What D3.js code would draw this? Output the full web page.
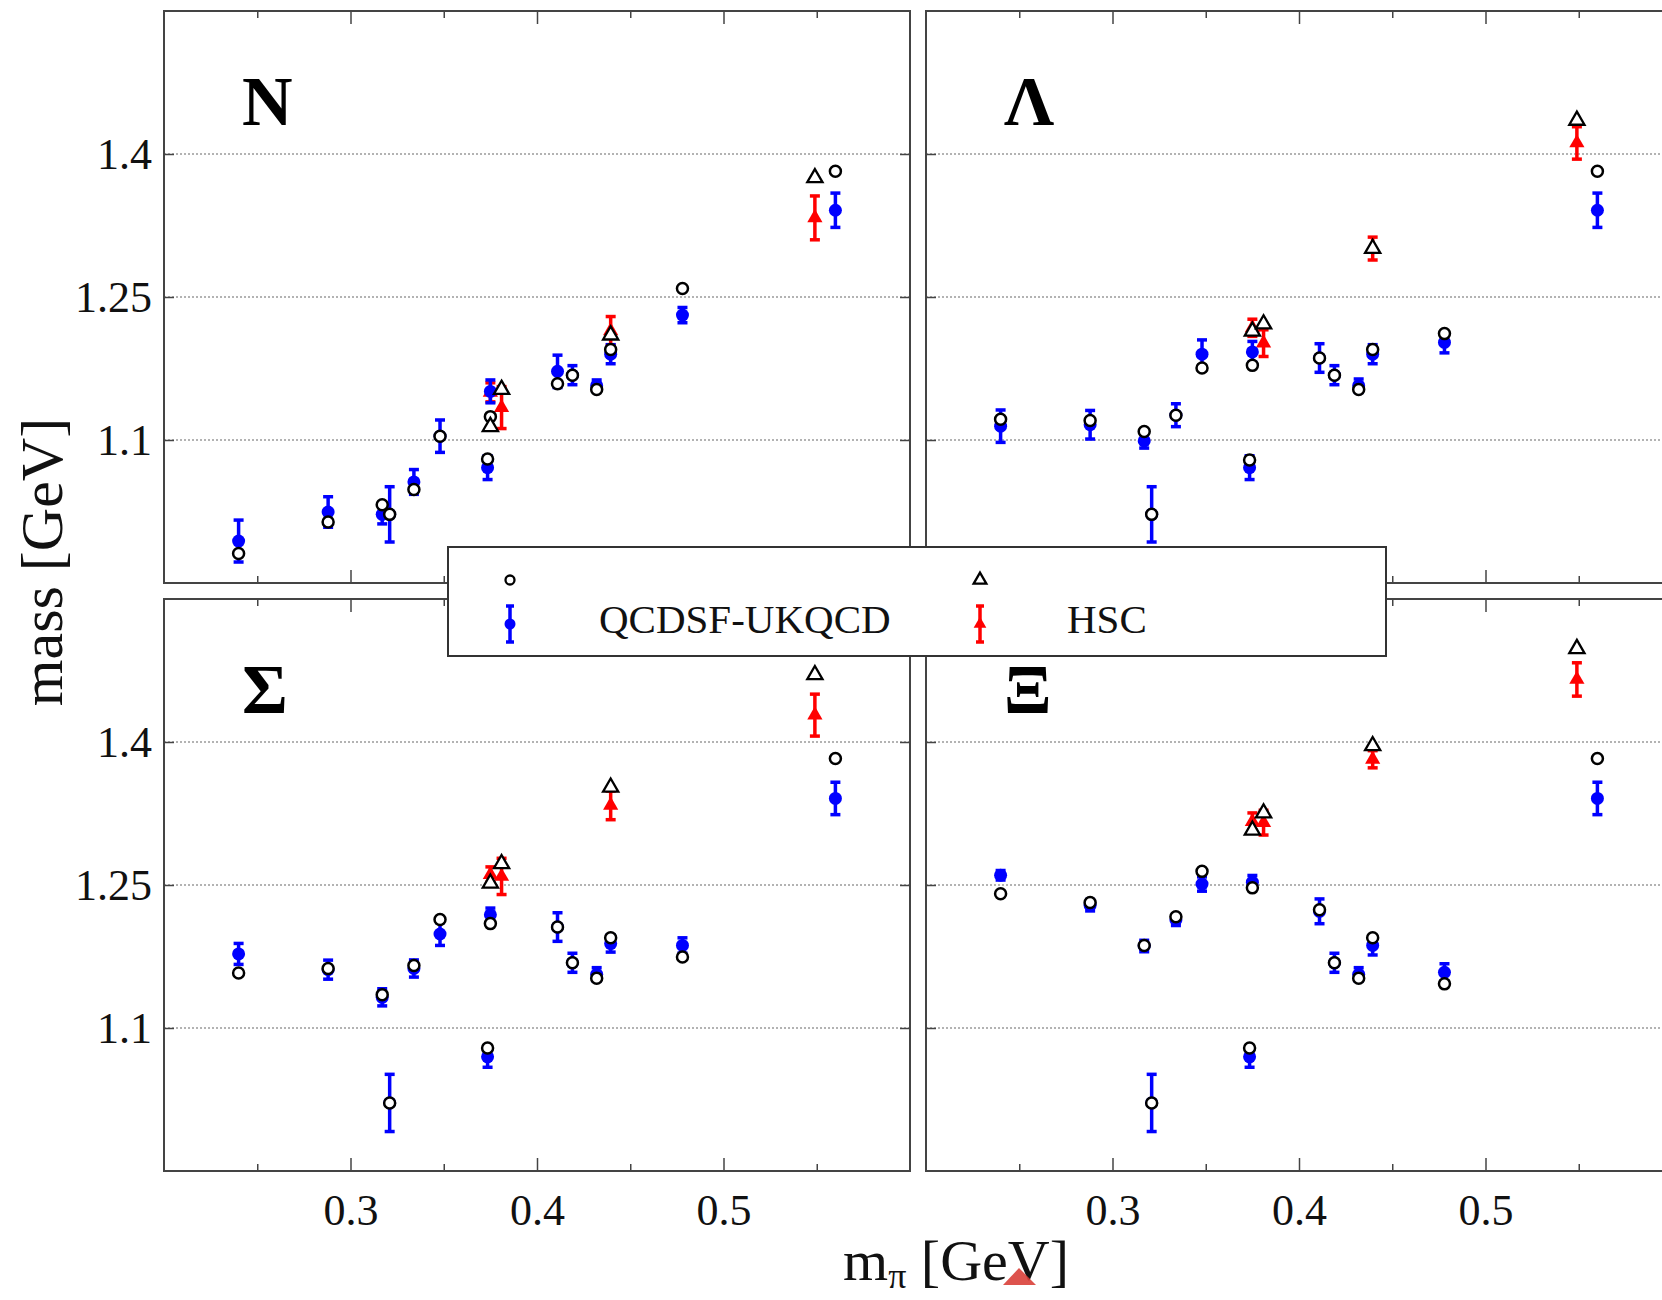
<!DOCTYPE html>
<html>
<head>
<meta charset="utf-8">
<script src="https://cdn.jsdelivr.net/npm/d3@7/dist/d3.min.js"></script>
<style>
body{margin:0;background:#fff;}
svg{display:block;}
</style>
</head>
<body>
<div id="chart"></div>
<script>
// pion masses [GeV] of the two data sets
const mpiQCDSF = [0.240, 0.288, 0.317, 0.321, 0.334, 0.348, 0.3735, 0.375, 0.411, 0.419, 0.432, 0.4395, 0.478, 0.560];
const mpiHSC = [0.375, 0.381, 0.4395, 0.549];

const panelNames = ['N', 'Λ', 'Σ', 'Ξ'];

// QCDSF-UKQCD lattice masses (blue), one row per panel
const qcdsfMass = [
	[0.994, 1.0245, 1.022, 1.022, 1.056, 1.104, 1.071, 1.151, 1.172, 1.168, 1.157, 1.190, 1.231, 1.341],
	[1.1145, 1.116, 1.099, 1.022, 1.126, 1.190, 1.071, 1.1924, 1.186, 1.168, 1.157, 1.190, 1.2024, 1.341],
	[1.1777, 1.1612, 1.1322, 1.0214, 1.1624, 1.1986, 1.0698, 1.2188, 1.2059, 1.1684, 1.1563, 1.1886, 1.1866, 1.3408],
	[1.2602, 1.2288, 1.186, 1.0214, 1.2135, 1.251, 1.0698, 1.253, 1.2224, 1.1684, 1.1563, 1.1866, 1.1584, 1.3408]
];
const qcdsfErr = [
	[0.022, 0.016, 0.010, 0.029, 0.013, 0.017, 0.0125, 0.012, 0.017, 0.010, 0.006, 0.010, 0.008, 0.018],
	[0.017, 0.015, 0.0075, 0.029, 0.012, 0.015, 0.0125, 0.011, 0.015, 0.010, 0.007, 0.010, 0.011, 0.018],
	[0.011, 0.010, 0.009, 0.030, 0.009, 0.012, 0.011, 0.007, 0.015, 0.010, 0.007, 0.009, 0.008, 0.017],
	[0.005, 0.006, 0.006, 0.030, 0.006, 0.0075, 0.011, 0.007, 0.013, 0.010, 0.007, 0.010, 0.009, 0.017]
];
// open circles at the QCDSF-UKQCD pion masses
const qcdsfOpen = [
	[0.981, 1.014, 1.032, 1.022, 1.048, 1.104, 1.080, 1.1245, 1.159, 1.168, 1.153, 1.195, 1.259, 1.382],
	[1.1217, 1.1205, 1.109, 1.022, 1.126, 1.1755, 1.079, 1.1783, 1.186, 1.168, 1.153, 1.195, 1.2116, 1.382],
	[1.1576, 1.1624, 1.135, 1.0214, 1.1656, 1.2139, 1.079, 1.2095, 1.2059, 1.1684, 1.1523, 1.1946, 1.1745, 1.3827],
	[1.2409, 1.2317, 1.1866, 1.0214, 1.2168, 1.2643, 1.079, 1.247, 1.224, 1.1684, 1.1523, 1.1946, 1.1463, 1.3827]
];

// HSC lattice masses (red), one row per panel
const hscMass = [
	[1.150, 1.134, 1.2145, 1.333],
	[1.2177, 1.2016, 1.3008, 1.4116],
	[1.261, 1.259, 1.3335, 1.4282],
	[1.3166, 1.3154, 1.3819, 1.4656]
];
const hscErr = [
	[0.010, 0.022, 0.015, 0.023],
	[0.009, 0.014, 0.012, 0.017],
	[0.008, 0.019, 0.015, 0.022],
	[0.009, 0.013, 0.009, 0.0175]
];
// open triangles at the HSC pion masses
const hscOpen = [
	[1.114, 1.153, 1.210, 1.375],
	[1.214, 1.2217, 1.3008, 1.4353],
	[1.2518, 1.2723, 1.3525, 1.4705],
	[1.3074, 1.3255, 1.396, 1.4979]
];

const yTicks = [1.1, 1.25, 1.4];
const xTicks = [0.3, 0.4, 0.5];
const xMinorTicks = [0.25, 0.35, 0.45, 0.55];
const legendLabels = ['QCDSF-UKQCD', 'HSC'];

//colours
const COLOR_PALETTE = {
	qcdsf: '#0000ff',
	hsc: '#ff0000',
	open: '#000',
	frame: '#444',
	grid: '#9a9a9a'
};

//canvas and panel layout
const CANVAS = {w: 1662, h: 1300};
const PANEL = {w: 746, h: 572};
const PANEL_POS = [
	{x: 164, y: 11}, {x: 926, y: 11},
	{x: 164, y: 599}, {x: 926, y: 599}
];
const FONT = "'Liberation Serif','Times New Roman',serif";

const CAP = 5;
const BAR_W = 3.5;
const TRI_SIZE = 100;

const x = d3.scaleLinear().domain([0.2, 0.6]).range([0, PANEL.w]);
const y = d3.scaleLinear().domain([0.95, 1.55]).range([PANEL.h, 0]);

const svg = d3.select('#chart')
	.append('svg')
	.attr('width', CANVAS.w)
	.attr('height', CANVAS.h)
	.attr('viewBox', `0 0 ${CANVAS.w} ${CANVAS.h}`)
	.style('font-family', FONT);

svg.append('rect')
	.attr('width', CANVAS.w)
	.attr('height', CANVAS.h)
	.attr('fill', '#fff');

const tri = d3.symbol().type(d3.symbolTriangle).size(TRI_SIZE);

function errorBar(g, cx, m, e, color) {
	const y0 = y(m - e), y1 = y(m + e);
	g.append('line')
		.attr('x1', cx).attr('x2', cx)
		.attr('y1', y0).attr('y2', y1)
		.attr('stroke', color).attr('stroke-width', BAR_W);
	[y0, y1].forEach(v => {
		g.append('line')
			.attr('x1', cx - CAP).attr('x2', cx + CAP)
			.attr('y1', v).attr('y2', v)
			.attr('stroke', color).attr('stroke-width', BAR_W);
	});
}

function drawPanel(i) {
	const pos = PANEL_POS[i];
	const isLeft = i % 2 === 0;
	const isBottom = i > 1;

	const g = svg.append('g')
		.attr('class', 'panel')
		.attr('transform', `translate(${pos.x},${pos.y})`);

	// dotted grid
	g.append('g')
		.selectAll('line')
		.data(yTicks)
		.join('line')
		.attr('x1', 0).attr('x2', PANEL.w)
		.attr('y1', d => y(d)).attr('y2', d => y(d))
		.attr('stroke', COLOR_PALETTE.grid)
		.attr('stroke-width', 1.5)
		.attr('stroke-dasharray', '2,2');

	// axes, ticks pointing inwards
	g.append('g')
		.call(d3.axisLeft(y).tickValues(yTicks).tickSize(-10).tickPadding(12)
			.tickFormat(isLeft ? (d => d) : ''));
	g.append('g')
		.attr('transform', `translate(${PANEL.w},0)`)
		.call(d3.axisRight(y).tickValues(yTicks).tickSize(-10).tickFormat(''));
	g.append('g')
		.attr('transform', `translate(0,${PANEL.h})`)
		.call(d3.axisBottom(x).tickValues(xTicks).tickSize(-13).tickPadding(23)
			.tickFormat(isBottom ? (d => d) : ''));
	g.append('g')
		.attr('transform', `translate(0,${PANEL.h})`)
		.call(d3.axisBottom(x).tickValues(xMinorTicks).tickSize(-7).tickFormat(''));
	g.append('g')
		.call(d3.axisTop(x).tickValues(xTicks).tickSize(-13).tickFormat(''));
	g.append('g')
		.call(d3.axisTop(x).tickValues(xMinorTicks).tickSize(-7).tickFormat(''));

	g.selectAll('.domain').remove();
	g.selectAll('.tick line')
		.attr('stroke', COLOR_PALETTE.frame)
		.attr('stroke-width', 1.5);
	g.selectAll('.tick text')
		.attr('font-family', FONT)
		.attr('font-size', 44)
		.attr('fill', '#111');

	g.append('rect')
		.attr('width', PANEL.w)
		.attr('height', PANEL.h)
		.attr('fill', 'none')
		.attr('stroke', COLOR_PALETTE.frame)
		.attr('stroke-width', 2);

	// HSC error bars and triangles
	const gH = g.append('g').attr('class', 'hsc');
	mpiHSC.forEach((m, j) => {
		errorBar(gH, x(m), hscMass[i][j], hscErr[i][j], COLOR_PALETTE.hsc);
	});
	gH.selectAll('path')
		.data(mpiHSC.map((m, j) => [m, hscMass[i][j]]))
		.join('path')
		.attr('d', tri)
		.attr('transform', d => `translate(${x(d[0])},${y(d[1])})`)
		.attr('fill', COLOR_PALETTE.hsc);

	// QCDSF-UKQCD error bars and dots
	const gQ = g.append('g').attr('class', 'qcdsf');
	mpiQCDSF.forEach((m, j) => {
		errorBar(gQ, x(m), qcdsfMass[i][j], qcdsfErr[i][j], COLOR_PALETTE.qcdsf);
	});
	gQ.selectAll('circle')
		.data(mpiQCDSF.map((m, j) => [m, qcdsfMass[i][j]]))
		.join('circle')
		.attr('cx', d => x(d[0]))
		.attr('cy', d => y(d[1]))
		.attr('r', 6.5)
		.attr('fill', COLOR_PALETTE.qcdsf);

	// open symbols on top
	g.append('g')
		.selectAll('circle')
		.data(mpiQCDSF.map((m, j) => [m, qcdsfOpen[i][j]]))
		.join('circle')
		.attr('cx', d => x(d[0]))
		.attr('cy', d => y(d[1]))
		.attr('r', 5.5)
		.attr('fill', '#fff')
		.attr('stroke', COLOR_PALETTE.open)
		.attr('stroke-width', 2.5);

	g.append('g')
		.selectAll('path')
		.data(mpiHSC.map((m, j) => [m, hscOpen[i][j]]))
		.join('path')
		.attr('d', tri)
		.attr('transform', d => `translate(${x(d[0])},${y(d[1])})`)
		.attr('fill', '#fff')
		.attr('stroke', COLOR_PALETTE.open)
		.attr('stroke-width', 2.3);

	g.append('text')
		.attr('x', 78)
		.attr('y', 114)
		.attr('font-size', 70)
		.attr('font-weight', 'bold')
		.attr('fill', '#000')
		.text(panelNames[i]);
}

panelNames.forEach((n, i) => drawPanel(i));

// axis titles
svg.append('text')
	.attr('transform', 'translate(62,562) rotate(-90)')
	.attr('text-anchor', 'middle')
	.attr('font-size', 60)
	.attr('fill', '#111')
	.text('mass [GeV]');

const xTitle = svg.append('text')
	.attr('x', 956)
	.attr('y', 1280)
	.attr('text-anchor', 'middle')
	.attr('font-size', 58)
	.attr('fill', '#111');
xTitle.append('tspan').text('m');
xTitle.append('tspan').attr('font-size', 36).attr('dy', 8).text('π');
xTitle.append('tspan').attr('dy', -8).text(' [GeV]');

// stray red marker over the axis title
svg.append('path')
	.attr('d', 'M1003,1285L1019,1268L1036,1285Z')
	.attr('fill', '#d9403a')
	.attr('opacity', 0.9);

// legend
const LEGEND = {x: 448, y: 547, w: 938, h: 109};
const gL = svg.append('g').attr('class', 'legend');
gL.append('rect')
	.attr('x', LEGEND.x).attr('y', LEGEND.y)
	.attr('width', LEGEND.w).attr('height', LEGEND.h)
	.attr('fill', '#fff')
	.attr('stroke', '#333')
	.attr('stroke-width', 2);

const lgx = [510, 980];
const lgRow1 = 580, lgRow2 = 624;
gL.append('circle')
	.attr('cx', lgx[0]).attr('cy', lgRow1).attr('r', 4.5)
	.attr('fill', '#fff').attr('stroke', '#000').attr('stroke-width', 2.3);
gL.append('path')
	.attr('d', d3.symbol().type(d3.symbolTriangle).size(70))
	.attr('transform', `translate(${lgx[1]},${lgRow1})`)
	.attr('fill', '#fff').attr('stroke', '#000').attr('stroke-width', 2.3);

[COLOR_PALETTE.qcdsf, COLOR_PALETTE.hsc].forEach((c, k) => {
	const cx = lgx[k];
	gL.append('line')
		.attr('x1', cx).attr('x2', cx)
		.attr('y1', lgRow2 - 18).attr('y2', lgRow2 + 18)
		.attr('stroke', c).attr('stroke-width', BAR_W);
	[lgRow2 - 18, lgRow2 + 18].forEach(v => {
		gL.append('line')
			.attr('x1', cx - 4).attr('x2', cx + 4)
			.attr('y1', v).attr('y2', v)
			.attr('stroke', c).attr('stroke-width', BAR_W);
	});
});
gL.append('circle')
	.attr('cx', lgx[0]).attr('cy', lgRow2).attr('r', 5.5)
	.attr('fill', COLOR_PALETTE.qcdsf);
gL.append('path')
	.attr('d', d3.symbol().type(d3.symbolTriangle).size(70))
	.attr('transform', `translate(${lgx[1]},${lgRow2})`)
	.attr('fill', COLOR_PALETTE.hsc);

gL.selectAll('text.lbl')
	.data(legendLabels)
	.join('text')
	.attr('class', 'lbl')
	.attr('x', (d, k) => [599, 1067][k])
	.attr('y', 633)
	.attr('font-size', 41)
	.attr('fill', '#111')
	.text(d => d);
</script>
</body>
</html>
